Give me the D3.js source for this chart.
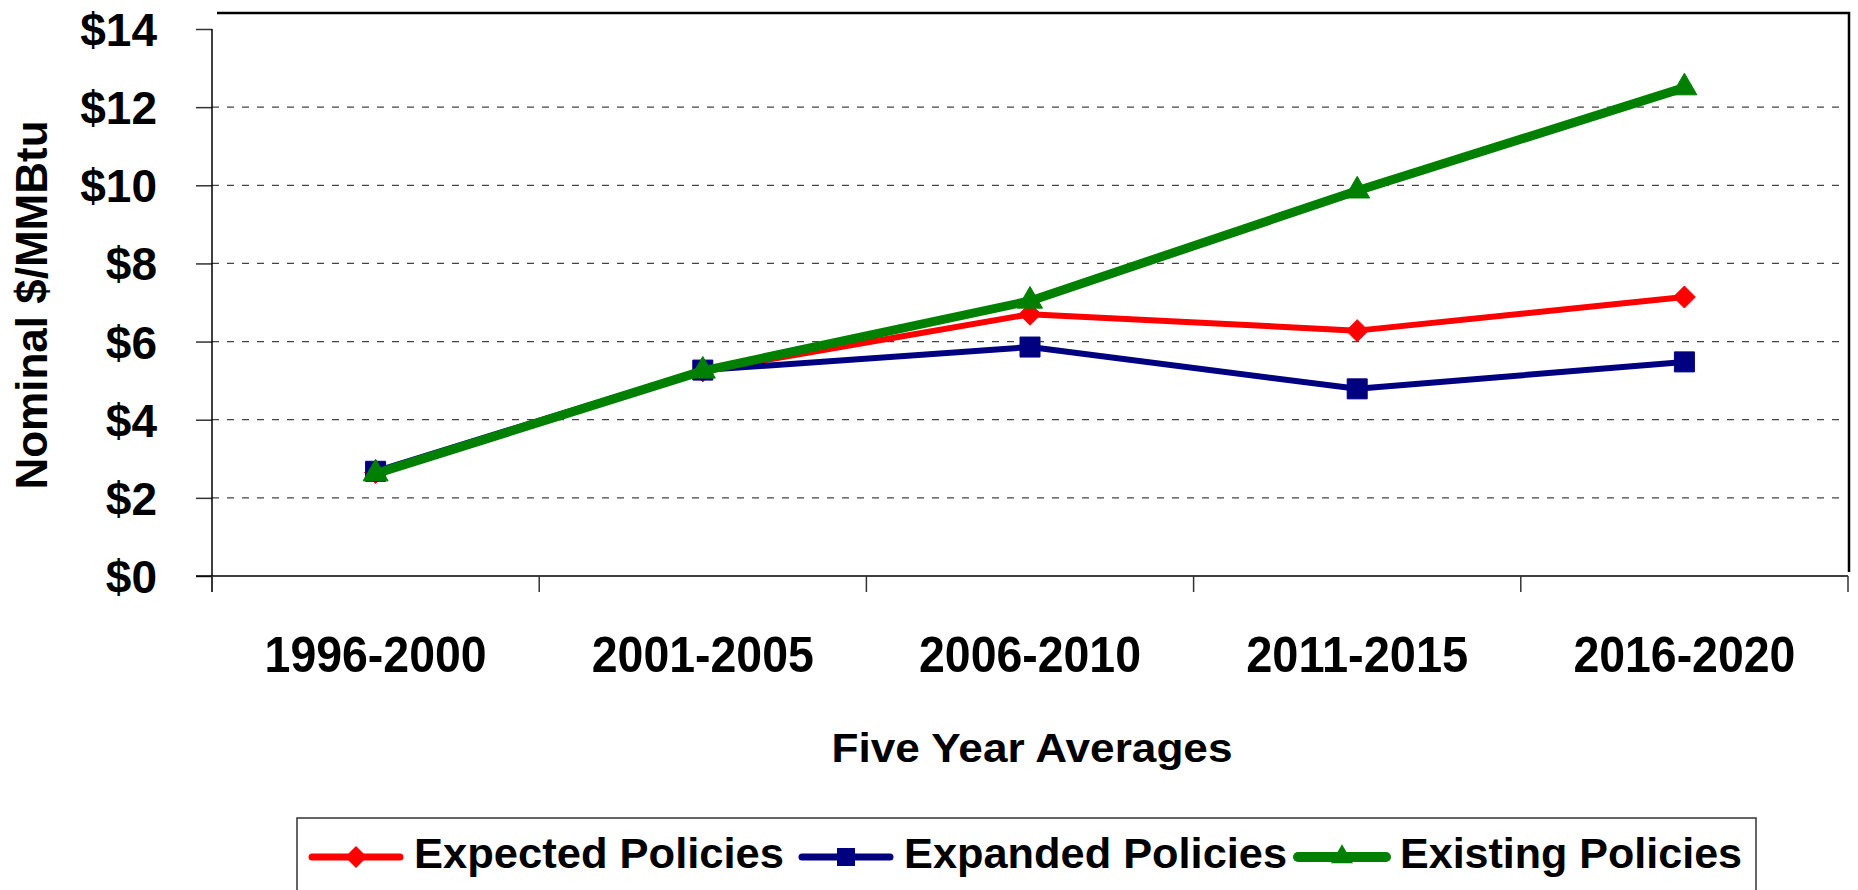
<!DOCTYPE html>
<meta charset="utf-8">
<style>
  body { margin: 0; background: #fff; }
  svg text { font-family: "Liberation Sans", Arial, sans-serif; font-weight: bold; fill: #000; }
</style>
<script src="https://d3js.org/d3.v7.min.js"></script>
<div id="chart"></div>
<script>

// data
var categories = ["1996-2000", "2001-2005", "2006-2010", "2011-2015", "2016-2020"];
var expected = [2.65, 5.25, 6.70, 6.28, 7.14];
var expanded = [2.68, 5.27, 5.86, 4.79, 5.48];
var existing = [2.62, 5.25, 7.04, 9.86, 12.5];
var yTicks = [0, 2, 4, 6, 8, 10, 12, 14];

var series = [
  {name: "Expected Policies", values: expected, color: "#ff0000", width: 6, symbol: "diamond"},
  {name: "Expanded Policies", values: expanded, color: "#000080", width: 6, symbol: "square"},
  {name: "Existing Policies", values: existing, color: "#008000", width: 9, symbol: "triangle"}
];

var W = 1858, H = 890;
var plotLeft = 212, plotRight = 1848, plotTop = 29, plotBottom = 576;

var svg = d3.select("#chart").append("svg")
    .attr("width", W)
    .attr("height", H);

svg.append("rect").attr("width", W).attr("height", H).attr("fill", "#fff");

var xBand = d3.scaleBand().domain(categories).range([plotLeft, plotRight]);
var x = function(c) { return xBand(c) + xBand.bandwidth() / 2; };
var y = d3.scaleLinear().domain([0, 14]).range([plotBottom, plotTop]);

// frame (top + right side)
svg.append("path")
    .attr("d", "M217,13H1849V572")
    .attr("fill", "none")
    .attr("stroke", "#000")
    .attr("stroke-width", 2.5);

// dashed gridlines
svg.append("g").selectAll("line")
  .data(yTicks.filter(function(d) { return d > 0 && d < 14; }))
  .enter().append("line")
    .attr("x1", plotLeft).attr("x2", 1845)
    .attr("y1", function(d) { return y(d); })
    .attr("y2", function(d) { return y(d); })
    .attr("stroke", "#444")
    .attr("stroke-width", 1.3)
    .attr("stroke-dasharray", "7,8");

// y axis
var yAxis = svg.append("g")
    .attr("transform", "translate(" + plotLeft + ",0)")
    .call(d3.axisLeft(y).tickValues(yTicks).tickSize(16).tickPadding(39)
      .tickFormat(function(d) { return "$" + d; }));
yAxis.select(".domain").remove();
yAxis.selectAll("line").attr("stroke", "#333").attr("stroke-width", 1.5);
yAxis.selectAll("text").attr("font-size", 46).attr("dy", "0.36em")
    .style("font-family", "'Liberation Sans', Arial, sans-serif").style("font-weight", "bold");
svg.append("line")
    .attr("x1", plotLeft).attr("x2", plotLeft).attr("y1", plotTop).attr("y2", plotBottom + 16)
    .attr("stroke", "#000").attr("stroke-width", 1.5);

// x axis
var xAxis = svg.append("g")
    .attr("transform", "translate(0," + plotBottom + ")")
    .call(d3.axisBottom(xBand).tickSize(0).tickPadding(60));
xAxis.select(".domain").remove();
xAxis.selectAll("text").attr("font-size", 50)
    .attr("textLength", 222)
    .attr("lengthAdjust", "spacingAndGlyphs")
    .style("font-family", "'Liberation Sans', Arial, sans-serif").style("font-weight", "bold");
svg.append("line")
    .attr("x1", plotLeft - 16).attr("x2", plotRight).attr("y1", plotBottom).attr("y2", plotBottom)
    .attr("stroke", "#000").attr("stroke-width", 1.5);
svg.append("g").selectAll("line")
  .data(categories.map(function(c) { return xBand(c); }).concat([plotRight]))
  .enter().append("line")
    .attr("x1", function(d) { return d; }).attr("x2", function(d) { return d; })
    .attr("y1", plotBottom).attr("y2", plotBottom + 16)
    .attr("stroke", "#333").attr("stroke-width", 1.5);

// axis titles
svg.append("text")
    .attr("transform", "translate(47,305) rotate(-90)")
    .attr("text-anchor", "middle")
    .attr("font-size", 44)
    .text("Nominal $/MMBtu");

svg.append("text")
    .attr("x", 1032).attr("y", 762)
    .attr("text-anchor", "middle")
    .attr("font-size", 40)
    .attr("textLength", 401)
    .attr("lengthAdjust", "spacingAndGlyphs")
    .text("Five Year Averages");

// markers
function markerPath(type, s) {
  if (type === "square") return d3.symbol().type(d3.symbolSquare).size(s * s)();
  if (type === "triangle") return d3.symbol().type(d3.symbolTriangle).size(Math.sqrt(3) / 4 * s * s)();
  var h = s / 2;
  return "M0," + (-h) + "L" + h + ",0L0," + h + "L" + (-h) + ",0Z";
}
var markerSize = {diamond: 22, square: 20, triangle: 25};

var line = d3.line()
    .x(function(d, i) { return x(categories[i]); })
    .y(function(d) { return y(d); });

series.forEach(function(s) {
  svg.append("path")
      .attr("d", line(s.values))
      .attr("fill", "none")
      .attr("stroke", s.color)
      .attr("stroke-width", s.width)
      .attr("stroke-linejoin", "round");
  svg.append("g").selectAll("path")
    .data(s.values)
    .enter().append("path")
      .attr("d", markerPath(s.symbol, markerSize[s.symbol]))
      .attr("transform", function(d, i) { return "translate(" + x(categories[i]) + "," + y(d) + ")"; })
      .attr("fill", s.color)
      .attr("stroke", s.color)
      .attr("stroke-width", 1)
      .attr("stroke-linejoin", "round");
});

// legend
svg.append("rect")
    .attr("x", 297).attr("y", 818).attr("width", 1459).attr("height", 100)
    .attr("fill", "#fff").attr("stroke", "#333").attr("stroke-width", 1.5);

var legendX = [312, 802, 1298];
var legendText = [370, 383, 342];
var leg = svg.append("g").selectAll("g")
  .data(series)
  .enter().append("g")
    .attr("transform", function(d, i) { return "translate(" + legendX[i] + ",857)"; });
leg.append("line")
    .attr("x1", 0).attr("x2", 88)
    .attr("stroke", function(d) { return d.color; })
    .attr("stroke-width", function(d) { return d.width + 1; })
    .attr("stroke-linecap", "round");
leg.append("path")
    .attr("d", function(d) { return markerPath(d.symbol, d.symbol === "square" ? 18 : 22); })
    .attr("transform", "translate(44,0)")
    .attr("fill", function(d) { return d.color; });
leg.append("text")
    .attr("x", 102).attr("y", 11)
    .attr("font-size", 43)
    .attr("textLength", function(d, i) { return legendText[i]; })
    .attr("lengthAdjust", "spacingAndGlyphs")
    .text(function(d) { return d.name; });

</script>
